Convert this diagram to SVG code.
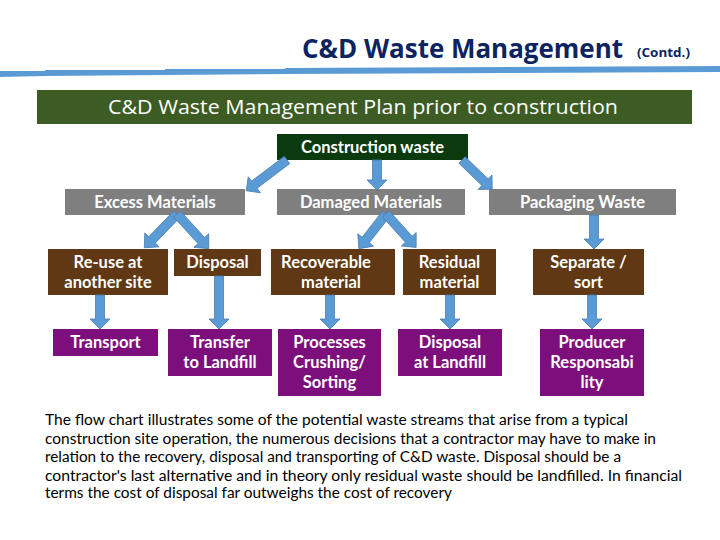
<svg xmlns="http://www.w3.org/2000/svg" width="720" height="540" viewBox="0 0 720 540">
<defs>
<style>
.title{font-family:"Open Sans","Liberation Sans",sans-serif;fill:#0d2460;font-weight:bold}
.banner{font-family:"Open Sans","Liberation Sans",sans-serif;fill:#ffffff;font-size:20px}
.lbl{font-family:Lato,"Liberation Sans",sans-serif;fill:#ffffff;font-weight:bold;font-size:16.5px;text-anchor:middle}
.para{font-family:Lato,"Liberation Sans",sans-serif;fill:#000000;font-size:14.5px}
.arr{fill:#5b9bd5;stroke:#4a7fb0;stroke-width:0.8}
.gray{fill:#7f7f7f}
.brown{fill:#603813}
.purple{fill:#7d0f7d}
</style>
</defs>
<rect width="720" height="540" fill="#ffffff"/>
<g id="title">
<text class="title" x="302" y="58" font-size="26" textLength="321" lengthAdjust="spacingAndGlyphs">C&amp;D Waste Management</text>
<text class="title" x="637" y="57" font-size="12" font-weight="normal" textLength="53" lengthAdjust="spacingAndGlyphs">(Contd.)</text>
<polygon points="0,71 45,71 45,70 165,70 165,69 285,69 285,68 720,66 720,72 285,74 285,74 165,75 45,76 0,77" fill="#5b9bd5"/>
</g>
<g id="banner">
<rect x="37" y="90" width="655" height="34" fill="#3d5c24"/>
<text class="banner" x="108" y="114" textLength="510" lengthAdjust="spacingAndGlyphs">C&amp;D Waste Management Plan prior to construction</text>
</g>
<g id="n-construction">
<rect x="277" y="134" width="191" height="26" fill="#0b3a0f"/>
<text class="lbl" x="372.5" y="153">Construction waste</text>
</g>
<g id="n-excess">
<rect class="gray" x="65" y="189" width="180" height="26"/>
<text class="lbl" x="155" y="208">Excess Materials</text>
</g>
<g id="n-damaged">
<rect class="gray" x="277" y="189" width="188" height="26"/>
<text class="lbl" x="371" y="208">Damaged Materials</text>
</g>
<g id="n-packaging">
<rect class="gray" x="489" y="189" width="187" height="26"/>
<text class="lbl" x="582.5" y="208">Packaging Waste</text>
</g>
<g id="n-reuse">
<rect class="brown" x="48" y="249" width="120" height="46"/>
<text class="lbl" x="108" y="268">Re-use at</text>
<text class="lbl" x="108" y="288">another site</text>
</g>
<g id="n-disposal">
<rect class="brown" x="174" y="249" width="87" height="27"/>
<text class="lbl" x="217.5" y="268">Disposal</text>
</g>
<g id="n-recoverable">
<rect class="brown" x="271" y="249" width="124" height="46"/>
<text class="lbl" x="326" y="268">Recoverable</text>
<text class="lbl" x="331" y="288">material</text>
</g>
<g id="n-residual">
<rect class="brown" x="403" y="249" width="93" height="46"/>
<text class="lbl" x="449.5" y="268">Residual</text>
<text class="lbl" x="449.5" y="288">material</text>
</g>
<g id="n-separate">
<rect class="brown" x="533" y="249" width="111" height="46"/>
<text class="lbl" x="588.5" y="268">Separate /</text>
<text class="lbl" x="588.5" y="288">sort</text>
</g>
<g id="n-transport">
<rect class="purple" x="53" y="329" width="105" height="27"/>
<text class="lbl" x="105.5" y="348">Transport</text>
</g>
<g id="n-transfer">
<rect class="purple" x="168" y="329" width="104" height="47"/>
<text class="lbl" x="220" y="348">Transfer</text>
<text class="lbl" x="220" y="368">to Landfill</text>
</g>
<g id="n-processes">
<rect class="purple" x="278" y="329" width="103" height="67"/>
<text class="lbl" x="329.5" y="348">Processes</text>
<text class="lbl" x="329.5" y="368">Crushing/</text>
<text class="lbl" x="329.5" y="388">Sorting</text>
</g>
<g id="n-landfill">
<rect class="purple" x="398" y="329" width="104" height="47"/>
<text class="lbl" x="450" y="348">Disposal</text>
<text class="lbl" x="450" y="368">at Landfill</text>
</g>
<g id="n-producer">
<rect class="purple" x="540" y="329" width="104" height="67"/>
<text class="lbl" x="592" y="348">Producer</text>
<text class="lbl" x="592" y="368">Responsabi</text>
<text class="lbl" x="592" y="388">lity</text>
</g>
<g id="connectors">
<g transform="translate(287,160) rotate(142.9)"><polygon class="arr" points="0,-4.5 41,-4.5 41,-10 51,0 41,10 41,4.5 0,4.5"/></g>
<polygon class="arr" points="372.5,160 381.5,160 381.5,180 387,180 377,190 367,180 372.5,180"/>
<g transform="translate(462,160) rotate(44)"><polygon class="arr" points="0,-4.5 32,-4.5 32,-10 42,0 32,10 32,4.5 0,4.5"/></g>
<g transform="translate(177,214) rotate(134)"><polygon class="arr" points="0,-4.5 36,-4.5 36,-10 47,0 36,10 36,4.5 0,4.5"/></g>
<g transform="translate(177,214) rotate(47.5)"><polygon class="arr" points="0,-4.5 36,-4.5 36,-10 47,0 36,10 36,4.5 0,4.5"/></g>
<g transform="translate(386,214) rotate(128)"><polygon class="arr" points="0,-4.5 33,-4.5 33,-10 44,0 33,10 33,4.5 0,4.5"/></g>
<g transform="translate(386,214) rotate(48)"><polygon class="arr" points="0,-4.5 34,-4.5 34,-10 45,0 34,10 34,4.5 0,4.5"/></g>
<polygon class="arr" points="589.5,215 598.5,215 598.5,239 604,239 594,249 584,239 589.5,239"/>
<polygon class="arr" points="95.5,295 104.5,295 104.5,319 110,319 100,329 90,319 95.5,319"/>
<polygon class="arr" points="214.5,276 223.5,276 223.5,319 229,319 219,329 209,319 214.5,319"/>
<polygon class="arr" points="325.5,295 334.5,295 334.5,319 340,319 330,329 320,319 325.5,319"/>
<polygon class="arr" points="445.5,295 454.5,295 454.5,319 460,319 450,329 440,319 445.5,319"/>
<polygon class="arr" points="587.5,295 596.5,295 596.5,319 602,319 592,329 582,319 587.5,319"/>
</g>
<g id="paragraph">
<text class="para" x="45" y="425" textLength="583" lengthAdjust="spacingAndGlyphs">The flow chart illustrates some of the potential waste streams that arise from a typical</text>
<text class="para" x="45" y="443.5" textLength="611" lengthAdjust="spacingAndGlyphs">construction site operation, the numerous decisions that a contractor may have to make in</text>
<text class="para" x="45" y="462" textLength="576" lengthAdjust="spacingAndGlyphs">relation to the recovery, disposal and transporting of C&amp;D waste. Disposal should be a</text>
<text class="para" x="45" y="480.5" textLength="637" lengthAdjust="spacingAndGlyphs">contractor's last alternative and in theory only residual waste should be landfilled. In financial</text>
<text class="para" x="45" y="498" textLength="407" lengthAdjust="spacingAndGlyphs">terms the cost of disposal far outweighs the cost of recovery</text>
</g>
</svg>
